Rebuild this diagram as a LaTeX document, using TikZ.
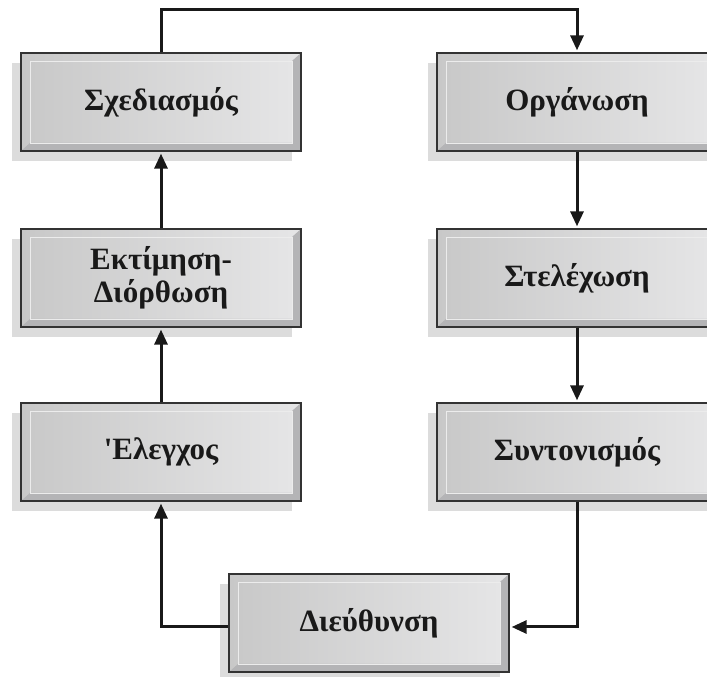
\documentclass[tikz,border=0pt]{standalone}
\usepackage{fontspec}
\setmainfont{Liberation Serif}[Ligatures=TeXOff]
\usetikzlibrary{arrows.meta,shadows}
\definecolor{facedark}{RGB}{200,200,200}
\definecolor{facelight}{RGB}{230,230,231}
\definecolor{banddark}{RGB}{180,180,182}
\definecolor{facehigh}{RGB}{236,236,236}
\definecolor{shadowgray}{RGB}{220,220,220}
\definecolor{inkgray}{RGB}{25,25,25}

\tikzset{
  stagebox/.style={draw=black!80, line width=1.3pt, minimum width=280pt,
    minimum height=98pt, inner sep=0pt, align=center, text=inkgray,
    font=\bfseries\fontsize{31}{33}\selectfont,
    left color=facedark, right color=facelight,
    general shadow={fill=shadowgray, shadow xshift=-9pt, shadow yshift=-10pt},
    path picture={
      \fill[banddark] (path picture bounding box.south west)
        -- (path picture bounding box.south east)
        -- (path picture bounding box.north east)
        -- ([xshift=-9pt,yshift=-8pt]path picture bounding box.north east)
        -- ([xshift=-9pt,yshift=8pt]path picture bounding box.south east)
        -- ([xshift=9pt,yshift=8pt]path picture bounding box.south west) -- cycle;
      \draw[facehigh, line width=0.8pt]
        ([xshift=9pt,yshift=8pt]path picture bounding box.south west)
        rectangle ([xshift=-9pt,yshift=-8pt]path picture bounding box.north east);
    }},
  flow/.style={line width=3pt, black!90, shorten >=2pt,
    -{Triangle[width=13pt,length=15pt]}}
}

\begin{document}
\begin{tikzpicture}[x=1pt,y=1pt]
  \useasboundingbox (0,0) rectangle (707,677);

  % left column
  \node[stagebox] (plan) at (161,575) {Σχεδιασμός};
  \node[stagebox] (eval) at (161,399) {Εκτίμηση-\\Διόρθωση};
  \node[stagebox] (ctrl) at (161,225) {{\char"27}Ελεγχος};

  % right column
  \node[stagebox] (org)   at (577,575) {Οργάνωση};
  \node[stagebox] (staff) at (577,399) {Στελέχωση};
  \node[stagebox] (coord) at (577,225) {Συντονισμός};

  % bottom
  \node[stagebox] (lead) at (369,54) {Διεύθυνση};

  \draw[flow] (plan.north) -- ++(0,43) -| (org.north);
  \draw[flow] (org) -- (staff);
  \draw[flow] (staff) -- (coord);
  \draw[flow] (coord.south) |- ([yshift=-4pt]lead.east);
  \draw[flow] ([yshift=-4pt]lead.west) -| (ctrl.south);
  \draw[flow] (ctrl) -- (eval);
  \draw[flow] (eval) -- (plan);
\end{tikzpicture}
\end{document}
